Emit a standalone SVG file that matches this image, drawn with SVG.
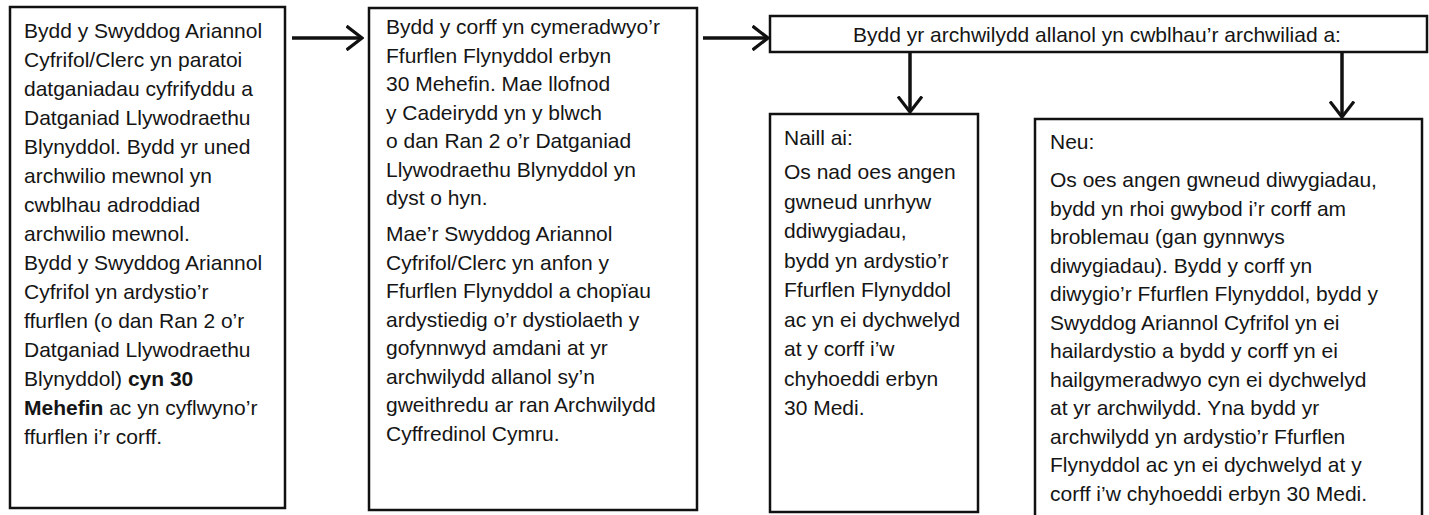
<svg xmlns="http://www.w3.org/2000/svg" width="1429" height="515" viewBox="0 0 1429 515">
<style>
.box{fill:#fff;stroke:#111;stroke-width:2.5}
.t{font-family:"Liberation Sans",Arial,sans-serif;font-size:21px;fill:#151515}
.b{font-weight:bold}
.conn{stroke:#111;stroke-width:3.5;fill:none}
</style>
<defs>
<marker id="arr" viewBox="0 0 18 26" refX="16.5" refY="13" markerWidth="18" markerHeight="26" markerUnits="userSpaceOnUse" orient="auto">
<path d="M1,1 L16.5,13 L1,25" fill="none" stroke="#111" stroke-width="3.2"/>
</marker>
</defs>
<rect width="1429" height="515" fill="#fff"/>
<g id="connectors">
<line class="conn" x1="292" y1="38" x2="362" y2="38" marker-end="url(#arr)"/>
<line class="conn" x1="703" y1="38" x2="768" y2="38" marker-end="url(#arr)"/>
<line class="conn" x1="910" y1="53" x2="910" y2="112" marker-end="url(#arr)"/>
<line class="conn" x1="1342" y1="53" x2="1342" y2="117" marker-end="url(#arr)"/>
</g>
<g id="node1">
<rect class="box" x="10" y="7" width="275" height="501"/>
<text class="t">
<tspan x="24" y="38">Bydd y Swyddog Ariannol</tspan>
<tspan x="24" y="67">Cyfrifol/Clerc yn paratoi</tspan>
<tspan x="24" y="96">datganiadau cyfrifyddu a</tspan>
<tspan x="24" y="125">Datganiad Llywodraethu</tspan>
<tspan x="24" y="154">Blynyddol. Bydd yr uned</tspan>
<tspan x="24" y="183">archwilio mewnol yn</tspan>
<tspan x="24" y="212">cwblhau adroddiad</tspan>
<tspan x="24" y="241">archwilio mewnol.</tspan>
<tspan x="24" y="270">Bydd y Swyddog Ariannol</tspan>
<tspan x="24" y="299">Cyfrifol yn ardystio’r</tspan>
<tspan x="24" y="328">ffurflen (o dan Ran 2 o’r</tspan>
<tspan x="24" y="357">Datganiad Llywodraethu</tspan>
<tspan x="24" y="386">Blynyddol) <tspan class="b">cyn 30</tspan></tspan>
<tspan x="24" y="415"><tspan class="b">Mehefin</tspan> ac yn cyflwyno’r</tspan>
<tspan x="24" y="444">ffurflen i’r corff.</tspan>
</text>
</g>
<g id="node2">
<rect class="box" x="369" y="8" width="328" height="502"/>
<text class="t">
<tspan x="386" y="34">Bydd y corff yn cymeradwyo’r</tspan>
<tspan x="386" y="62.5">Ffurflen Flynyddol erbyn</tspan>
<tspan x="386" y="91">30 Mehefin. Mae llofnod</tspan>
<tspan x="386" y="119.5">y Cadeirydd yn y blwch</tspan>
<tspan x="386" y="148">o dan Ran 2 o’r Datganiad</tspan>
<tspan x="386" y="176.5">Llywodraethu Blynyddol yn</tspan>
<tspan x="386" y="205">dyst o hyn.</tspan>
<tspan x="386" y="241">Mae’r Swyddog Ariannol</tspan>
<tspan x="386" y="269.5">Cyfrifol/Clerc yn anfon y</tspan>
<tspan x="386" y="298">Ffurflen Flynyddol a chopïau</tspan>
<tspan x="386" y="326.5">ardystiedig o’r dystiolaeth y</tspan>
<tspan x="386" y="355">gofynnwyd amdani at yr</tspan>
<tspan x="386" y="383.5">archwilydd allanol sy’n</tspan>
<tspan x="386" y="412">gweithredu ar ran Archwilydd</tspan>
<tspan x="386" y="440.5">Cyffredinol Cymru.</tspan>
</text>
</g>
<g id="node3">
<rect class="box" x="770" y="16" width="657" height="36"/>
<text class="t" x="1097" y="42" text-anchor="middle">Bydd yr archwilydd allanol yn cwblhau’r archwiliad a:</text>
</g>
<g id="node4">
<rect class="box" x="770" y="114" width="208" height="398"/>
<text class="t">
<tspan x="784" y="145">Naill ai:</tspan>
<tspan x="784" y="179">Os nad oes angen</tspan>
<tspan x="784" y="208.5">gwneud unrhyw</tspan>
<tspan x="784" y="238">ddiwygiadau,</tspan>
<tspan x="784" y="267.5">bydd yn ardystio’r</tspan>
<tspan x="784" y="297">Ffurflen Flynyddol</tspan>
<tspan x="784" y="326.5">ac yn ei dychwelyd</tspan>
<tspan x="784" y="356">at y corff i’w</tspan>
<tspan x="784" y="385.5">chyhoeddi erbyn</tspan>
<tspan x="784" y="415">30 Medi.</tspan>
</text>
</g>
<g id="node5">
<rect class="box" x="1035" y="119" width="387" height="400"/>
<text class="t">
<tspan x="1050" y="149">Neu:</tspan>
<tspan x="1050" y="187">Os oes angen gwneud diwygiadau,</tspan>
<tspan x="1050" y="215.5">bydd yn rhoi gwybod i’r corff am</tspan>
<tspan x="1050" y="244">broblemau (gan gynnwys</tspan>
<tspan x="1050" y="272.5">diwygiadau). Bydd y corff yn</tspan>
<tspan x="1050" y="301">diwygio’r Ffurflen Flynyddol, bydd y</tspan>
<tspan x="1050" y="329.5">Swyddog Ariannol Cyfrifol yn ei</tspan>
<tspan x="1050" y="358">hailardystio a bydd y corff yn ei</tspan>
<tspan x="1050" y="386.5">hailgymeradwyo cyn ei dychwelyd</tspan>
<tspan x="1050" y="415">at yr archwilydd. Yna bydd yr</tspan>
<tspan x="1050" y="443.5">archwilydd yn ardystio’r Ffurflen</tspan>
<tspan x="1050" y="472">Flynyddol ac yn ei dychwelyd at y</tspan>
<tspan x="1050" y="500.5">corff i’w chyhoeddi erbyn 30 Medi.</tspan>
</text>
</g>
</svg>
